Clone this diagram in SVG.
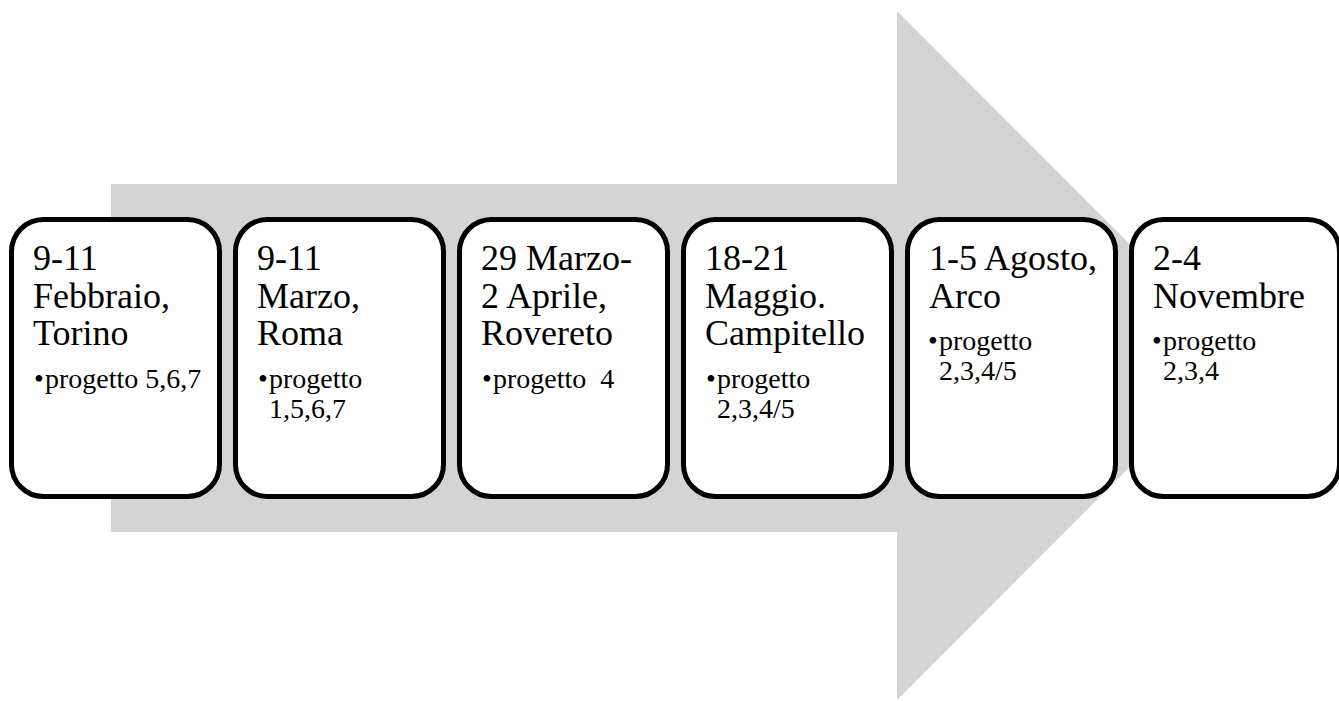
<svg xmlns="http://www.w3.org/2000/svg" width="1339" height="701" viewBox="0 0 1339 701">
<style>
.box{fill:#fff;stroke:#000;stroke-width:5}
.h{font-family:"Liberation Serif","Times New Roman",serif;font-size:36px;fill:#000}
.s{font-family:"Liberation Serif","Times New Roman",serif;font-size:28px;fill:#000}
.b{font-family:"Liberation Serif","Times New Roman",serif;font-size:28px;fill:#000}
</style>
<rect width="1339" height="701" fill="#fff"/>
<g id="arrow">
<polygon points="111,184 897,184 897,11 1241,355.5 897,700 897,532 111,532" fill="#d4d4d4"/>
</g>
<g id="connectors"></g>
<g id="node1">
<rect class="box" x="11.5" y="219.5" width="208" height="277" rx="32"/>
<text class="h" x="33" y="270">9-11</text>
<text class="h" x="33" y="308">Febbraio,</text>
<text class="h" x="33" y="345">Torino</text>
<text class="b" x="34" y="388">•</text>
<text class="s" x="45" y="388">progetto 5,6,7</text>
</g>
<g id="node2">
<rect class="box" x="235.5" y="219.5" width="208" height="277" rx="32"/>
<text class="h" x="257" y="270">9-11</text>
<text class="h" x="257" y="308">Marzo,</text>
<text class="h" x="257" y="345">Roma</text>
<text class="b" x="258" y="388">•</text>
<text class="s" x="269" y="388">progetto</text>
<text class="s" x="269" y="418">1,5,6,7</text>
</g>
<g id="node3">
<rect class="box" x="459.5" y="219.5" width="208" height="277" rx="32"/>
<text class="h" x="481" y="270">29 Marzo-</text>
<text class="h" x="481" y="308">2 Aprile,</text>
<text class="h" x="481" y="345">Rovereto</text>
<text class="b" x="482" y="388">•</text>
<text class="s" x="493" y="388" xml:space="preserve">progetto  4</text>
</g>
<g id="node4">
<rect class="box" x="683.5" y="219.5" width="208" height="277" rx="32"/>
<text class="h" x="705" y="270">18-21</text>
<text class="h" x="705" y="308">Maggio.</text>
<text class="h" x="705" y="345">Campitello</text>
<text class="b" x="706" y="388">•</text>
<text class="s" x="717" y="388">progetto</text>
<text class="s" x="717" y="418">2,3,4/5</text>
</g>
<g id="node5">
<rect class="box" x="907.5" y="219.5" width="208" height="277" rx="32"/>
<text class="h" x="929" y="270">1-5 Agosto,</text>
<text class="h" x="929" y="308">Arco</text>
<text class="b" x="928" y="350">•</text>
<text class="s" x="939" y="350">progetto</text>
<text class="s" x="939" y="380">2,3,4/5</text>
</g>
<g id="node6">
<rect class="box" x="1131.5" y="219.5" width="208" height="277" rx="32"/>
<text class="h" x="1153" y="270">2-4</text>
<text class="h" x="1153" y="308">Novembre</text>
<text class="b" x="1152" y="350">•</text>
<text class="s" x="1163" y="350">progetto</text>
<text class="s" x="1163" y="380">2,3,4</text>
</g>
</svg>
